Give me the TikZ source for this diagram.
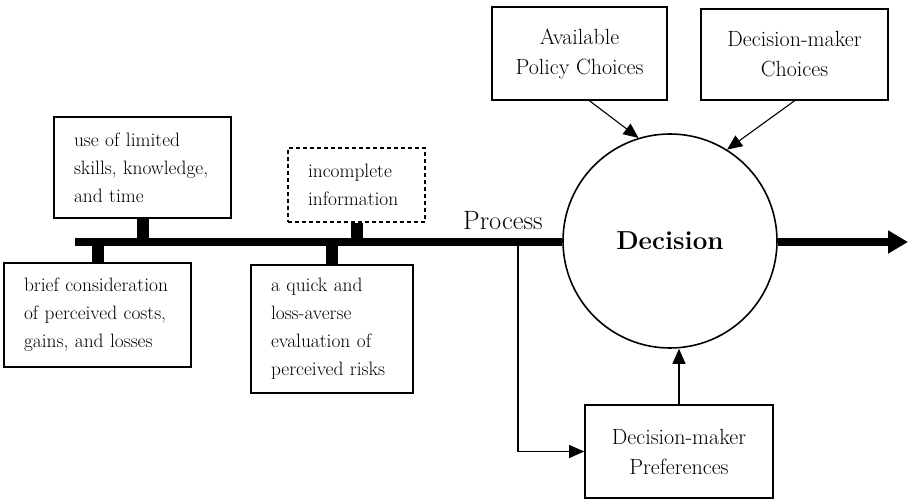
\documentclass[tikz,border=0pt]{standalone}
\usepackage{fontspec}
\usetikzlibrary{arrows.meta,calc}
\begin{document}
\begin{tikzpicture}[x=1pt,y=-1pt,
  lbox/.style={draw,line width=1.6pt,inner xsep=20pt,inner ysep=0pt,align=left,
    font=\fontsize{19.4}{28}\selectfont},
  tbox/.style={draw,line width=1.6pt,inner sep=0pt,align=center,
    font=\fontsize{22}{30}\selectfont},
  stub/.style={line width=12pt},
  mainline/.style={line width=8pt},
  arr/.style={line width=1.1pt,-{Triangle[length=15pt,width=13pt]}}]
\useasboundingbox (0,0) rectangle (908,502);
\coordinate (L0) at (75,242);
\coordinate (E) at (908,242);
\coordinate (br) at (518,242);
% boxes
\node[lbox,minimum width=177pt,minimum height=101pt,text width=137pt] (lim) at (142.5,167.5) {use of limited\\skills, knowledge,\\and time};
\node[lbox,dashed,dash pattern=on 4pt off 3pt,minimum width=137pt,minimum height=74pt,text width=97pt] (inc) at (356.5,185) {incomplete\\information};
\node[lbox,minimum width=187pt,minimum height=104pt,text width=147pt] (brief) at (97.5,315) {brief consideration\\of perceived costs,\\gains, and losses};
\node[lbox,minimum width=162pt,minimum height=128pt,text width=122pt] (quick) at (332,329) {a quick and\\loss-averse\\evaluation of\\perceived risks};
\node[tbox,minimum width=175pt,minimum height=93pt] (avail) at (579.5,53.5) {Available\\Policy Choices};
\node[tbox,minimum width=187pt,minimum height=91pt] (dmc) at (794.5,54.5) {Decision-maker\\Choices};
\node[tbox,minimum width=188pt,minimum height=93pt] (pref) at (679,451.5) {Decision-maker\\Preferences};
\node[draw,circle,line width=1.6pt,minimum size=214pt,inner sep=0pt,
  font=\fontsize{26}{30}\selectfont\bfseries] (dec) at (670,241) {Decision};
\node[anchor=base west,inner sep=0pt,font=\fontsize{26.5}{30}\selectfont] (proc) at (463,230) {Process};
% main line and stubs
\draw[mainline] (L0) -- (L0 -| dec.west);
\draw[mainline,-{Triangle[length=20pt,width=22pt]}] (L0 -| dec.east) -- (E);
\draw[stub] (lim.south) -- (lim.south |- L0);
\draw[stub] (inc.south) -- (inc.south |- L0);
\draw[stub] (brief.north) -- (brief.north |- L0);
\draw[stub] (quick.north) -- (quick.north |- L0);
% arrows
\draw[arr] ($(avail.south)+(10,0)$) -- (dec.107);
\draw[arr] (dmc.south) -- (dec.58);
\draw[arr] (pref.north) -- (pref.north |- dec.south);
\draw[arr] (br) |- (pref.west);
\end{tikzpicture}
\end{document}
